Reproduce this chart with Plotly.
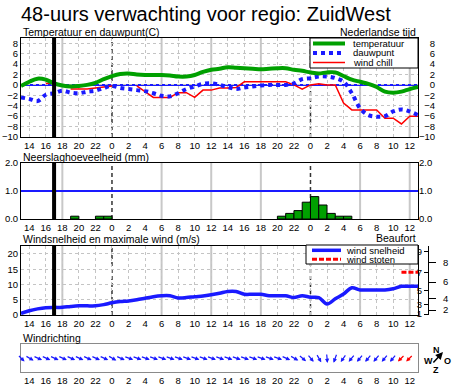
import math
import plotly.graph_objects as go

# ---------------- data ----------------
hours = list(range(13, 62))  # hour index: 13 = 13:00 day 1 ... 61 = 13:00 day 3

temperature = [-0.2, 0.6, 1.2, 1.0, 0.3, -0.1, -0.3, -0.2, 0.0, 0.4, 1.1, 1.7, 2.1, 2.2, 2.0, 1.9,
               1.9, 1.9, 1.8, 1.6, 1.6, 1.9, 2.5, 2.9, 3.1, 3.4, 3.3, 3.2, 3.1, 3.0, 3.1, 3.2,
               3.2, 2.9, 2.7, 2.4, 2.2, 2.4, 2.4, 1.7, 1.0, 0.6, 0.2, -0.4, -1.3, -1.5, -1.3, -0.8, -0.4]
dew_point = [-2.4, -2.7, -3.1, -1.9, -1.6, -1.1, -1.5, -1.6, -1.3, -1.1, -0.6, -0.2, -0.6, -0.8, -1.0, -1.2,
             -1.6, -2.1, -2.2, -1.6, -0.8, -0.3, 0.2, 0.3, 0.0, -0.4, -0.8, -0.5, -0.3, -0.1, 0.0, 0.0,
             0.0, 0.3, 1.1, 1.3, 1.6, 1.6, 1.3, 0.6, -1.6, -4.5, -5.8, -6.1, -6.0, -5.1, -4.7, -5.1, -5.8]
wind_chill = [None, None, None, 0.3, 0.3, None, -0.8, -0.8, -0.8, -0.6, -0.4, -0.2, None, None, -0.2, -1.3,
              -2.4, -2.4, -2.4, -1.5, -1.5, -2.4, -1.0, -1.0, -0.6, -0.6, -0.5, 0.6, 0.6, 0.6, 0.6, 0.6,
              0.6, 0.0, -0.8, 0.0, 0.2, 0.0, 0.0, -3.5, -4.8, -4.8, -4.8, -4.8, -6.4, -6.4, -7.5, -6.0, -6.0]

precip_hours = [19, 22, 23, 44, 45, 46, 47, 48, 49, 50, 51, 52]
precip_mm = [0.1, 0.1, 0.1, 0.1, 0.2, 0.3, 0.6, 0.8, 0.5, 0.2, 0.1, 0.1]

wind_speed = [0.5, 1.4, 2.0, 2.4, 2.5, 2.5, 2.8, 3.0, 3.0, 3.0, 3.4, 4.0, 4.4, 4.6, 5.0, 5.5,
              6.0, 6.3, 6.3, 5.6, 5.7, 6.0, 6.2, 6.6, 7.1, 7.7, 7.7, 6.8, 6.8, 6.8, 6.3, 6.3,
              6.3, 5.7, 6.3, 5.8, 5.7, 3.6, 5.3, 6.9, 8.9, 8.2, 8.2, 8.2, 8.2, 8.6, 9.4, 9.4, 9.4]
gust_hours = [59, 60, 61]
gust_speed = [14.0, 14.0, 14.0]

arrow_hours = list(range(13, 61))
wind_dir = [315, 300, 295, 295, 295, 295, 295, 295, 295, 295, 295,
            300, 295, 290, 290, 290, 290, 290, 290, 290, 290, 290, 290,
            290, 290, 290, 290, 290, 290, 290, 290, 290, 295, 300,
            310, 320, 330, 355, 20, 35, 40, 40, 40, 40, 40, 40, 45, 45]

tick_hours = [14, 16, 18, 20, 22, 24, 26, 28, 30, 32, 34, 36, 38, 40, 42, 44, 46, 48, 50, 52, 54, 56, 58, 60]
tick_labels = ["14", "16", "18", "20", "22", "0", "2", "4", "6", "8", "10", "12",
               "14", "16", "18", "20", "22", "0", "2", "4", "6", "8", "10", "12"]
temp_ticks = [-10, -8, -6, -4, -2, 0, 2, 4, 6, 8]
precip_ticks = [0, 1, 2]
wind_ticks = [0, 5, 10, 15, 20]
beaufort_ms = [0.3, 1.6, 3.4, 5.5, 8.0, 10.8, 13.9, 17.2, 20.8]
beaufort_labels = ["1", "2", "3", "4", "5", "6", "7", "8", "9"]

now_hour = 17
midnight_hours = [24, 48]
six_hour_lines = [18, 30, 36, 42, 54, 60]
temp_ref = 0
precip_ref = 1.0

# ---------------- layout helpers ----------------
W, H = 457, 387
ML = 21
PW = W - ML


def px_x(px):
    return (px - ML) / PW


def px_y(py):
    return 1 - py / H


FONT = "Liberation Sans, Arial, sans-serif"
GREEN = "#00a000"
BLUE = "#1a1aff"
RED = "#ff0000"
XRANGE = [13, 61]
XDOM = [0, px_x(418)]
WRANGE = [0, 22.6]

fig = go.Figure()

# temperature panel
fig.add_trace(go.Scatter(x=hours, y=wind_chill, xaxis="x", yaxis="y", mode="lines",
                         line=dict(color=RED, width=1.5), connectgaps=False, name="wind chill"))
fig.add_trace(go.Scatter(x=hours, y=dew_point, xaxis="x", yaxis="y", mode="lines",
                         line=dict(color=BLUE, width=4, dash="dot", shape="spline"), name="dauwpunt"))
fig.add_trace(go.Scatter(x=hours, y=temperature, xaxis="x", yaxis="y", mode="lines",
                         line=dict(color=GREEN, width=4, shape="spline"), name="temperatuur"))

# precipitation panel
fig.add_trace(go.Bar(x=precip_hours, y=precip_mm, width=1, offset=0, xaxis="x2", yaxis="y3",
                     marker=dict(color=GREEN, line=dict(color="black", width=1)), name="neerslag"))

# wind panel
fig.add_trace(go.Scatter(x=hours, y=wind_speed, xaxis="x3", yaxis="y5", mode="lines",
                         line=dict(color=BLUE, width=3.5, shape="spline"), name="wind snelheid"))
fig.add_trace(go.Scatter(x=gust_hours, y=gust_speed, xaxis="x3", yaxis="y5", mode="lines",
                         line=dict(color=RED, width=3, dash="5px,2px"), name="wind stoten"))

# invisible helpers so every overlaid (label-only) axis is paired with the right x axis
for xa, ya, yv in [("x", "y2", temp_ticks[0]), ("x2", "y4", precip_ticks[0]),
                   ("x3", "y6", wind_ticks[0]), ("x3", "y7", wind_ticks[0])]:
    fig.add_trace(go.Scatter(x=[hours[0]], y=[yv], xaxis=xa, yaxis=ya, mode="markers",
                             marker=dict(opacity=0, size=1), hoverinfo="skip", showlegend=False))

tickfont = dict(family=FONT, size=9.5, color="black")


def xaxis_common(anchor, grid):
    return dict(domain=XDOM, anchor=anchor, range=XRANGE, tickmode="array", tickvals=tick_hours,
                ticktext=tick_labels, ticks="", showline=True, mirror=True, linecolor="black",
                linewidth=1, showgrid=grid, gridcolor="#c4c4c4", griddash="dot", gridwidth=1,
                zeroline=False, tickfont=tickfont, automargin=False, fixedrange=True)


layout = dict(
    width=W, height=H, template="none", showlegend=False,
    margin=dict(l=ML, r=0, t=0, b=0, pad=0),
    paper_bgcolor="white", plot_bgcolor="white",
    font=dict(family=FONT, size=10, color="black"),
    xaxis=xaxis_common("y", True),
    xaxis2=xaxis_common("y3", False),
    xaxis3=xaxis_common("y5", True),
    xaxis4=dict(xaxis_common("y8", False), linecolor="#8a8a8a"),
    yaxis=dict(domain=[px_y(137), px_y(38)], anchor="x", range=[-10, 9], tickvals=temp_ticks,
               ticks="", showline=True, mirror=True, linecolor="black", showgrid=True,
               gridcolor="#c4c4c4", griddash="dot", zeroline=False, tickfont=tickfont, automargin=False),
    yaxis2=dict(overlaying="y", side="left", anchor="free", position=px_x(435), range=[-10, 9],
                tickvals=temp_ticks, ticks="", showline=False, showgrid=False, zeroline=False,
                tickfont=tickfont, automargin=False),
    yaxis3=dict(domain=[px_y(219), px_y(163)], anchor="x2", range=[0, 2], tickvals=precip_ticks,
                tickformat=".1f", ticks="", showline=True, mirror=True, linecolor="black",
                showgrid=False, zeroline=False, tickfont=tickfont, automargin=False),
    yaxis4=dict(overlaying="y3", side="right", anchor="x2", range=[0, 2], tickvals=precip_ticks,
                tickformat=".1f", ticks="", showline=False, showgrid=False, zeroline=False,
                tickfont=tickfont, automargin=False),
    yaxis5=dict(domain=[px_y(315), px_y(246)], anchor="x3", range=WRANGE, tickvals=wind_ticks,
                ticks="", showline=True, mirror=True, linecolor="black", showgrid=True,
                gridcolor="#c4c4c4", griddash="dot", zeroline=False, tickfont=tickfont, automargin=False),
    yaxis6=dict(overlaying="y5", side="left", anchor="free", position=px_x(428), range=WRANGE,
                tickvals=beaufort_ms[0::2], ticktext=beaufort_labels[0::2], ticks="outside", ticklen=4,
                tickcolor="black", showline=True, linecolor="black", showgrid=False, zeroline=False,
                tickfont=tickfont, automargin=False),
    yaxis7=dict(overlaying="y5", side="right", anchor="free", position=px_x(428), range=WRANGE,
                tickvals=beaufort_ms[1::2], ticktext=beaufort_labels[1::2], ticks="outside", ticklen=7,
                tickcolor="black", ticklabelstandoff=5, showline=False, showgrid=False, zeroline=False,
                tickfont=tickfont, automargin=False),
    yaxis8=dict(domain=[px_y(372), px_y(344)], anchor="x4", range=[-1, 1], showticklabels=False,
                ticks="", showline=True, mirror=True, linecolor="#8a8a8a", showgrid=False,
                zeroline=False, automargin=False),
)
fig.update_layout(**layout)

shapes = []
for xr, yr in [("x", "y"), ("x2", "y3"), ("x3", "y5")]:
    for h in six_hour_lines:
        shapes.append(dict(type="line", xref=xr, yref=yr + " domain", x0=h, x1=h, y0=0, y1=1,
                           line=dict(color="#c8c8c8", width=2), layer="below"))
    for h in midnight_hours:
        shapes.append(dict(type="line", xref=xr, yref=yr + " domain", x0=h, x1=h, y0=0, y1=1,
                           line=dict(color="#333333", width=1.5, dash="4px,3px"), layer="below"))
    shapes.append(dict(type="line", xref=xr, yref=yr + " domain", x0=now_hour, x1=now_hour, y0=0, y1=1,
                       line=dict(color="black", width=4), layer="above"))
shapes.append(dict(type="line", xref="x domain", yref="y", x0=0, x1=1, y0=temp_ref, y1=temp_ref,
                   line=dict(color=BLUE, width=2), layer="below"))
shapes.append(dict(type="line", xref="x2 domain", yref="y3", x0=0, x1=1, y0=precip_ref, y1=precip_ref,
                   line=dict(color=BLUE, width=2), layer="below"))

# legend boxes (manual, compact like the original)
shapes.append(dict(type="rect", xref="paper", yref="paper", x0=px_x(310), x1=px_x(418),
                   y0=px_y(68), y1=px_y(38), fillcolor="white", line=dict(color="black", width=1), layer="above"))
leg_temp = [("temperatuur", dict(color=GREEN, width=4)),
            ("dauwpunt", dict(color=BLUE, width=4, dash="dot")),
            ("wind chill", dict(color=RED, width=1.5))]
annotations = []
for i, (label, ln) in enumerate(leg_temp):
    yy = 43.5 + i * 9.5
    shapes.append(dict(type="line", xref="paper", yref="paper", x0=px_x(313), x1=px_x(345),
                       y0=px_y(yy), y1=px_y(yy), line=ln, layer="above"))
    annotations.append(dict(text=label, xref="paper", yref="paper", x=px_x(351), y=px_y(yy),
                            xanchor="left", yanchor="middle", showarrow=False,
                            font=dict(family=FONT, size=9.5)))

shapes.append(dict(type="rect", xref="paper", yref="paper", x0=px_x(306), x1=px_x(418),
                   y0=px_y(264), y1=px_y(245), fillcolor="white", line=dict(color="black", width=1), layer="above"))
leg_wind = [("wind snelheid", dict(color=BLUE, width=3.5)),
            ("wind stoten", dict(color=RED, width=3, dash="5px,2px"))]
for i, (label, ln) in enumerate(leg_wind):
    yy = 250.3 + i * 9.0
    shapes.append(dict(type="line", xref="paper", yref="paper", x0=px_x(312), x1=px_x(341),
                       y0=px_y(yy), y1=px_y(yy), line=ln, layer="above"))
    annotations.append(dict(text=label, xref="paper", yref="paper", x=px_x(344), y=px_y(yy),
                            xanchor="left", yanchor="middle", showarrow=False,
                            font=dict(family=FONT, size=9.5)))

# titles
texts = [
    ("48-uurs verwachting voor regio: ZuidWest", 19, 14, "left", 20),
    ("Temperatuur en dauwpunt(C)", 21, 32, "left", 10.5),
    ("Nederlandse tijd", 418, 32, "right", 10.5),
    ("Neerslaghoeveelheid (mm)", 21, 157, "left", 10.5),
    ("Windsnelheid en maximale wind (m/s)", 21, 239, "left", 10.5),
    ("Beaufort", 418, 238, "right", 10.5),
    ("Windrichting", 21, 338, "left", 10.5),
]
for t, x, y, anc, sz in texts:
    annotations.append(dict(text=t, xref="paper", yref="paper", x=px_x(x), y=px_y(y),
                            xanchor=anc, yanchor="middle", showarrow=False,
                            font=dict(family=FONT, size=sz)))

# compass
for t, x, y in [("N", 436, 350), ("W", 428, 361), ("O", 447, 361), ("Z", 436, 370)]:
    annotations.append(dict(text="<b>" + t + "</b>", xref="paper", yref="paper", x=px_x(x), y=px_y(y),
                            xanchor="center", yanchor="middle", showarrow=False,
                            font=dict(family=FONT, size=9)))
annotations.append(dict(text="", xref="paper", yref="paper", x=px_x(443), y=px_y(352),
                        ax=-11, ay=12, axref="pixel", ayref="pixel", showarrow=True,
                        arrowhead=2, arrowsize=1, arrowwidth=1.5, arrowcolor="black"))

# wind direction arrows
L = 10
for h, d in zip(arrow_hours, wind_dir):
    rad = math.radians(d)
    ax = L * math.sin(rad)
    ay = -L * math.cos(rad)
    col = RED if h in gust_hours else BLUE
    annotations.append(dict(text="", x=h, y=0, xref="x4", yref="y8", ax=ax, ay=ay,
                            axref="pixel", ayref="pixel", showarrow=True, arrowhead=2,
                            arrowsize=0.7, arrowwidth=1.2, arrowcolor=col,
                            xshift=-ax / 2, yshift=ay / 2))

fig.update_layout(shapes=shapes, annotations=annotations)
# remove the browser's default 8px page margin so the figure fills the window exactly
fig.write_html("out.html", config={"displayModeBar": False, "staticPlot": True},
               post_script="document.body.style.margin='0px';")
